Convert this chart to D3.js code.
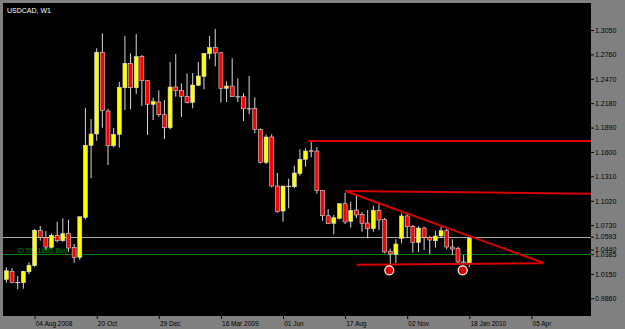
<!DOCTYPE html>
<html lang="en">
<head>
<meta charset="utf-8">
<title>USDCAD, W1</title>
<script src="https://cdn.jsdelivr.net/npm/d3@7"></script>
<style>
  body { margin: 0; background: #808080; }
  svg { display: block; }
  .axis text { font-family: "Liberation Sans", Arial, sans-serif; font-size: 7px; fill: #000; }
  .xaxis text { font-size: 6.5px; }
  .axis line { stroke: #000; }
  .axis path { display: none; }
  .title { font-family: "Liberation Sans", Arial, sans-serif; font-size: 7px; fill: #fff; }
  .order { font-family: "Liberation Sans", Arial, sans-serif; font-size: 7px; fill: #008000; }
</style>
</head>
<body>
<svg width="625" height="329"></svg>
<script>
// weekly bars, index 0 = week of 30 Jun 2008
var opens = [1.0086,1.0181,1.0050,1.0046,1.0176,1.0248,1.0669,1.0581,1.0467,1.0609,
  1.0545,1.0633,1.0467,1.0348,1.0823,1.1679,1.1814,1.2785,1.2087,1.1674,
  1.1810,1.2364,1.2654,1.2364,1.2733,1.2447,1.2167,1.2194,1.2043,1.1888,
  1.2372,1.2333,1.2262,1.2190,1.2393,1.2500,1.2768,1.2840,1.2780,1.2357,
  1.2384,1.2257,1.2257,1.2114,1.2117,1.1869,1.1477,1.1778,1.1195,1.0898,
  1.1195,1.1187,1.1342,1.1513,1.1615,1.1611,1.1144,1.0842,1.0752,1.0811,
  1.0985,1.0776,1.0910,1.0859,1.0755,1.0688,1.0906,1.0799,1.0419,1.0381,
  1.0574,1.0839,1.0716,1.0526,1.0696,1.0585,1.0545,1.0601,1.0664,1.0470,
  1.0455,1.0292,1.0283];
var highs = [1.0229,1.0220,1.0125,1.0188,1.0288,1.0684,1.0720,1.0660,1.0633,1.0771,
  1.0811,1.0795,1.0506,1.0830,1.2123,1.1992,1.2832,1.3011,1.2114,1.1885,
  1.2432,1.2979,1.2773,1.3002,1.2753,1.2456,1.2245,1.2333,1.2218,1.2670,
  1.2765,1.2416,1.2535,1.2539,1.2670,1.2773,1.2979,1.3062,1.2780,1.2440,
  1.2714,1.2476,1.2297,1.2503,1.2250,1.1881,1.1810,1.1810,1.1350,1.1195,
  1.1282,1.1437,1.1632,1.1644,1.1722,1.1659,1.1144,1.0922,1.0851,1.0985,
  1.1116,1.1009,1.1088,1.0883,1.0910,1.0961,1.0981,1.0815,1.0452,1.0562,
  1.0871,1.0871,1.0732,1.0716,1.0711,1.0601,1.0664,1.0711,1.0692,1.0562,
  1.0474,1.0375,1.0601];
var lows = [1.0046,1.0039,0.9967,0.9974,1.0149,1.0236,1.0545,1.0434,1.0455,1.0526,
  1.0533,1.0414,1.0283,1.0316,1.0799,1.1287,1.1734,1.1888,1.1445,1.1655,
  1.1651,1.2099,1.2107,1.2289,1.2146,1.1802,1.1980,1.2019,1.1754,1.1869,
  1.2257,1.2016,1.2179,1.2119,1.2384,1.2345,1.2702,1.2618,1.2186,1.2194,
  1.2257,1.2194,1.1968,1.2051,1.1822,1.1465,1.1457,1.1180,1.0878,1.0771,
  1.0930,1.1168,1.1318,1.1425,1.1537,1.1104,1.0783,1.0744,1.0621,1.0799,
  1.0744,1.0700,1.0811,1.0652,1.0574,1.0652,1.0672,1.0395,1.0262,1.0276,
  1.0514,1.0574,1.0402,1.0411,1.0434,1.0387,1.0462,1.0574,1.0443,1.0375,
  1.0276,1.0276,1.0229];
var closes = [1.0188,1.0050,1.0047,1.0181,1.0253,1.0669,1.0585,1.0470,1.0609,1.0545,
  1.0628,1.0458,1.0348,1.0830,1.1679,1.1814,1.2785,1.2095,1.1674,1.1810,
  1.2369,1.2654,1.2364,1.2733,1.2447,1.2167,1.2198,1.2043,1.1888,1.2372,
  1.2333,1.2262,1.2190,1.2396,1.2503,1.2773,1.2840,1.2777,1.2357,1.2384,
  1.2257,1.2255,1.2114,1.2112,1.1869,1.1477,1.1778,1.1195,1.0890,1.1195,
  1.1191,1.1350,1.1513,1.1611,1.1606,1.1144,1.0842,1.0747,1.0818,1.0985,
  1.0767,1.0906,1.0851,1.0752,1.0688,1.0906,1.0791,1.0411,1.0387,1.0506,
  1.0839,1.0711,1.0526,1.0696,1.0585,1.0553,1.0601,1.0664,1.0470,1.0446,
  1.0292,1.0290,1.0574];

var dateTicks = [5, 16, 27, 38, 49, 60, 71, 82, 93];
var dateLabels = ["04 Aug 2008", "20 Oct", "29 Dec", "16 Mar 2009", "01 Jun",
  "17 Aug", "02 Nov", "18 Jan 2010", "05 Apr"];
var priceTicks = [0.9860, 1.0150, 1.0440, 1.0730, 1.1020, 1.1310, 1.1600,
  1.1890, 1.2180, 1.2470, 1.2760, 1.3050];

var bidLevel = 1.0593;
var orderLevel = 1.0385;
var orderLabel = "ID 5921885 Buy";

// trend lines drawn on the chart: [bar1, price1, bar2, price2]
var trendLines = [
  [53.4, 1.1730, 103.6, 1.1730],
  [60.0, 1.1136, 103.6, 1.1104],
  [60.0, 1.1136, 95.1, 1.0283],
  [62.05, 1.0260, 95.1, 1.0276]
];
var markers = [[67.83, 1.0193], [80.83, 1.0193]];

var mySVG = d3.select("svg");
var pLeft = 3, pRight = 591, pTop = 3, pBottom = 316;

var x = d3.scaleLinear().domain([-0.6, 103.56]).range([pLeft, pRight]);
var y = d3.scaleLinear().domain([0.9650, 1.3371]).range([pBottom, pTop]);

mySVG.append("rect")
  .attr("x", pLeft).attr("y", pTop)
  .attr("width", pRight - pLeft).attr("height", pBottom - pTop)
  .attr("fill", "#000");

var plot = mySVG.append("g");

// level lines
plot.append("line")
  .attr("x1", pLeft).attr("x2", pRight)
  .attr("y1", Math.round(y(bidLevel)) + 0.5).attr("y2", Math.round(y(bidLevel)) + 0.5)
  .attr("stroke", "#a8a8a8");
plot.append("line")
  .attr("x1", pLeft).attr("x2", pRight)
  .attr("y1", Math.round(y(orderLevel)) + 0.5).attr("y2", Math.round(y(orderLevel)) + 0.5)
  .attr("stroke", "#008000");
plot.append("text").attr("class", "order")
  .attr("x", 17).attr("y", y(orderLevel) - 1.5)
  .text(orderLabel);

var bars = d3.range(opens.length).map(function(i) {
  return { i: i, o: opens[i], h: highs[i], l: lows[i], c: closes[i] };
});

var candle = plot.selectAll(".candle")
  .data(bars)
  .enter()
  .append("g")
  .attr("class", "candle");

candle.append("line")
  .attr("x1", function(d) { return x(d.i); })
  .attr("x2", function(d) { return x(d.i); })
  .attr("y1", function(d) { return y(d.h); })
  .attr("y2", function(d) { return y(d.l); })
  .attr("stroke", "#d8d8d8")
  .attr("stroke-width", 1);

candle.filter(function(d) { return Math.abs(d.o - d.c) >= 0.0006; })
  .append("rect")
  .attr("x", function(d) { return x(d.i) - 2; })
  .attr("width", 4)
  .attr("y", function(d) { return y(Math.max(d.o, d.c)); })
  .attr("height", function(d) { return Math.abs(y(d.o) - y(d.c)); })
  .attr("fill", function(d) { return d.c > d.o ? "#ffff00" : "#ff0000"; })
  .attr("stroke", "#d8d8d8")
  .attr("stroke-width", 0.6);

candle.filter(function(d) { return Math.abs(d.o - d.c) < 0.0006; })
  .append("line")
  .attr("x1", function(d) { return x(d.i) - 2.5; })
  .attr("x2", function(d) { return x(d.i) + 2.5; })
  .attr("y1", function(d) { return y(d.c); })
  .attr("y2", function(d) { return y(d.c); })
  .attr("stroke", "#e0e0e0");

// trend lines and markers
plot.selectAll(".trend")
  .data(trendLines)
  .enter()
  .append("line")
  .attr("class", "trend")
  .attr("x1", function(d) { return x(d[0]); })
  .attr("y1", function(d) { return y(d[1]); })
  .attr("x2", function(d) { return Math.min(x(d[2]), pRight); })
  .attr("y2", function(d) { return y(d[3]); })
  .attr("stroke", "#d80000")
  .attr("stroke-width", 2);

plot.selectAll(".marker")
  .data(markers)
  .enter()
  .append("circle")
  .attr("class", "marker")
  .attr("cx", function(d) { return x(d[0]); })
  .attr("cy", function(d) { return y(d[1]); })
  .attr("r", 4.5)
  .attr("fill", "#e00000")
  .attr("stroke", "#fff")
  .attr("stroke-width", 1.2);

mySVG.append("text").attr("class", "title")
  .attr("x", 7).attr("y", 13)
  .text("USDCAD, W1");

// axes
var yAxis = d3.axisRight(y)
  .tickValues(priceTicks.concat([bidLevel, orderLevel]))
  .tickFormat(d3.format(".4f"))
  .tickSize(3)
  .tickPadding(1);
mySVG.append("g").attr("class", "axis")
  .attr("transform", "translate(" + pRight + ",0)")
  .call(yAxis);

var xAxis = d3.axisBottom(x)
  .tickValues(dateTicks)
  .tickFormat(function(d, i) { return dateLabels[i]; })
  .tickSize(3)
  .tickPadding(2);
mySVG.append("g").attr("class", "axis xaxis")
  .attr("transform", "translate(0," + pBottom + ")")
  .call(xAxis)
  .selectAll("text")
  .attr("text-anchor", "start")
  .attr("dx", "0.1em");
</script>
</body>
</html>
